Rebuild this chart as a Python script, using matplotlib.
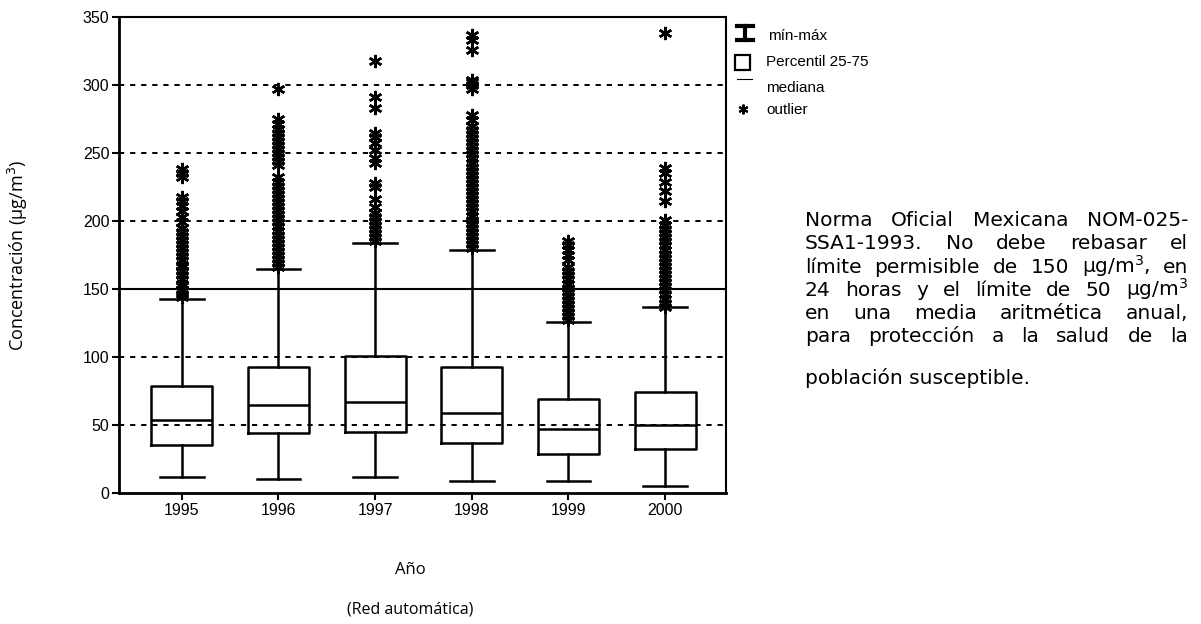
import matplotlib
matplotlib.use("Agg")
import matplotlib.pyplot as plt
from matplotlib.lines import Line2D
from matplotlib.patches import Rectangle

# ---- data (ug/m3) ----
years = ["1995", "1996", "1997", "1998", "1999", "2000"]
q1 = [35, 44, 45, 36.5, 29, 32]
med = [54, 64.5, 67, 58.5, 47, 50]
q3 = [79, 92.5, 101, 92.5, 69, 74.5]
whislo = [11.5, 10, 11.5, 8.5, 8.5, 5.5]
whishi = [142.5, 164.5, 183.5, 179, 126, 136.5]

out_1995 = [144, 146, 149, 152, 154, 157, 160, 163, 166, 168, 171, 174, 177, 180,
            183, 186, 189, 192, 195, 199, 203, 207, 211, 215, 218, 232, 235, 238]
out_1996 = [166, 169, 172, 175, 178, 181, 184, 187, 190, 193, 196, 199, 202, 205,
            208, 211, 214, 217, 220, 223, 226, 229, 232, 241, 244, 247, 250, 253,
            256, 259, 262, 265, 268, 271, 275, 297]
out_1997 = [185, 188, 191, 194, 197, 200, 203, 206, 210, 216, 225, 228, 243, 246,
            252, 257, 262, 265, 283, 291, 318]
out_1998 = [180, 183, 186, 189, 192, 195, 198, 201, 204, 207, 210, 213, 216, 219,
            222, 225, 228, 231, 234, 237, 240, 243, 246, 249, 252, 255, 258, 261,
            264, 267, 270, 274, 278, 297, 300, 302, 304, 326, 333, 337]
out_1999 = [127, 130, 133, 136, 139, 142, 145, 148, 151, 154, 157, 160, 163, 166,
            171, 175, 179, 182, 185]
out_2000 = [137, 140, 143, 146, 149, 152, 155, 158, 161, 164, 167, 170, 173, 176,
            179, 182, 185, 188, 191, 194, 197, 201, 215, 222, 229, 235, 239, 338]
outliers = [out_1995, out_1996, out_1997, out_1998, out_1999, out_2000]

norma = 150
grid_vals = [50, 100, 200, 250, 300]

note_lines = [
    "Norma Oficial Mexicana NOM-025-",
    "SSA1-1993. No debe rebasar el",
    "límite permisible de 150 µg/m$^3$, en",
    "24 horas y el límite de 50 µg/m$^3$",
    "en una media aritmética anual,",
    "para protección a la salud de la",
    "población susceptible.",
]

W, H = 1201, 624
fig = plt.figure(figsize=(W / 100, H / 100), dpi=100)


def px(x, y):
    return x / W, 1 - y / H


ax = fig.add_axes([119 / W, 1 - 493 / H, (726 - 119) / W, (493 - 17) / H])

stats = []
for i in range(len(years)):
    stats.append(dict(med=med[i], q1=q1[i], q3=q3[i], whislo=whislo[i],
                      whishi=whishi[i], fliers=outliers[i], label=years[i]))

lw = 1.8
ax.bxp(stats, positions=range(1, 7), widths=0.63, showfliers=True,
       boxprops=dict(color="black", linewidth=lw),
       medianprops=dict(color="black", linewidth=lw),
       whiskerprops=dict(color="black", linewidth=lw),
       capprops=dict(color="black", linewidth=lw),
       capwidths=0.45,
       flierprops=dict(marker=(6, 2, 0), markersize=9.5, markeredgecolor="black",
                       markeredgewidth=1.8, linestyle="none"))

for g in grid_vals:
    ax.axhline(g, color="black", linewidth=1.4, linestyle=(0, (2.7, 3.0)),
               zorder=0)
ax.axhline(norma, color="black", linewidth=1.5, zorder=0)

ax.set_xlim(0.35, 6.63)
ax.set_ylim(0, 350)
ax.set_yticks(range(0, 351, 50))
ax.tick_params(axis="both", direction="out", length=5, width=1.5,
               labelsize=11.5, pad=2)
for lab in ax.get_xticklabels() + ax.get_yticklabels():
    lab.set_fontfamily("Liberation Sans")
for s in ["left", "bottom"]:
    ax.spines[s].set_linewidth(2)
for s in ["top", "right"]:
    ax.spines[s].set_linewidth(1.5)

fig.text(*px(18, 255), "Concentración (µg/m$^3$)", rotation=90, ha="center",
         va="center", fontsize=13, family="Open Sans")
fig.text(*px(410, 570), "Año", ha="center", va="center", fontsize=12,
         family="Open Sans")
fig.text(*px(410, 609), "(Red automática)", ha="center", va="center",
         fontsize=11.5, family="Open Sans")

# legend drawn by hand
leg_fs = 11
fig.add_artist(Line2D([745 / W, 745 / W], [1 - 26 / H, 1 - 40 / H],
                      transform=fig.transFigure, color="black", lw=3))
for yy in (26, 40):
    fig.add_artist(Line2D([737 / W, 753 / W], [1 - yy / H, 1 - yy / H],
                          transform=fig.transFigure, color="black", lw=3))
fig.add_artist(Rectangle(px(735, 70), 15 / W, 15 / H, transform=fig.transFigure,
                         fill=False, edgecolor="black", lw=1.6))
fig.add_artist(Line2D([737 / W, 752 / W], [1 - 79 / H, 1 - 79 / H],
                      transform=fig.transFigure, color="black", lw=0.8))
fig.add_artist(Line2D([743 / W], [1 - 109 / H], transform=fig.transFigure,
                      marker=(6, 2, 0), markersize=7, markeredgewidth=1.5,
                      color="black", linestyle="none"))
fig.text(*px(768, 36), "mín-máx", va="center", fontsize=leg_fs,
         family="Liberation Sans")
fig.text(*px(766, 62), "Percentil 25-75", va="center", fontsize=leg_fs,
         family="Liberation Sans")
fig.text(*px(766, 88), "mediana", va="center", fontsize=leg_fs,
         family="Liberation Sans")
fig.text(*px(766, 110), "outlier", va="center", fontsize=leg_fs,
         family="Liberation Sans")

# justified note text
note_fs = 14.5
x0, x1 = 805, 1188
baselines = [226, 249, 273, 296, 319, 342, 384]
renderer = fig.canvas.get_renderer()
for k, line in enumerate(note_lines):
    words = line.split(" ")
    y = 1 - baselines[k] / H
    if k == len(note_lines) - 1:
        fig.text(x0 / W, y, line, va="baseline", fontsize=note_fs,
                 family="DejaVu Sans")
        continue
    arts = [fig.text(0, y, w, va="baseline", fontsize=note_fs,
                     family="DejaVu Sans") for w in words]
    widths = [a.get_window_extent(renderer).width for a in arts]
    gap = (x1 - x0 - sum(widths)) / (len(words) - 1)
    xx = x0
    for a, wdt in zip(arts, widths):
        a.set_x(xx / W)
        xx += wdt + gap

fig.savefig("out.png", dpi=100)
